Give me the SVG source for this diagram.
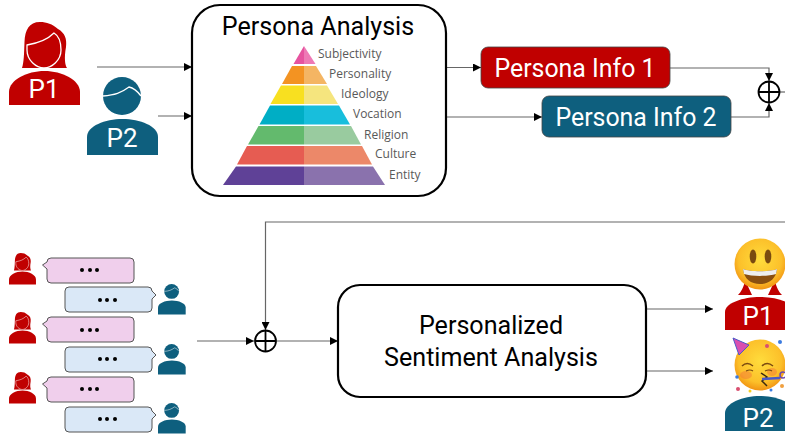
<svg xmlns="http://www.w3.org/2000/svg" width="785" height="437" viewBox="0 0 785 437">
<style>
text{font-family:"Roboto","Liberation Sans",sans-serif}
.big{font-size:25.100px;fill:#000;text-anchor:middle}
.info{font-size:24.900px;fill:#fff;text-anchor:middle}
.tag{font-size:26px;fill:#fff;text-anchor:middle}
.lvl{font-family:"Open Sans","Liberation Sans",sans-serif;font-size:12px;fill:#595959}
.box{fill:#fff;stroke:#000;stroke-width:2.200}
.conn{fill:none;stroke:#666;stroke-width:1.200}
.plus{fill:none;stroke:#000;stroke-width:1.800}
.pink{fill:#f0cfec;stroke:#555;stroke-width:1}
.blue{fill:#dae8f7;stroke:#555;stroke-width:1}
.dot{fill:#000}
</style>
<defs>
<marker id="ah" viewBox="0 0 8 8" refX="8" refY="4" markerWidth="8" markerHeight="8" markerUnits="userSpaceOnUse" orient="auto"><path d="M0 0L8 4L0 8Z" fill="#000"/></marker>
<g id="womanTop">
<path d="M31 0C20 0 16 8 15.500 20C15 32 15 40 13 46L58 46C56 43 55 36 57 25C58 17 56 11 49 7C43 2 38 0 31 0Z" fill="#c00000"/>
<path d="M18 23C30 21 38 18 45 11C50 14 52 20 52 28C52 38 43 46 35 46C27 46 18 38 18 28Z" fill="#c00000" stroke="#fff" stroke-width="1.300"/>
</g>
<g id="womanBody"><path d="M0 83L0 70C0 58 18 49 35.500 49C53 49 71 58 71 70L71 83Z" fill="#c00000"/></g>
<g id="manTop">
<circle cx="19" cy="19" r="19" fill="#0e5f7e"/>
<path d="M0 19C12 18 18 16 26 10C31 11 35 15 38 19" fill="none" stroke="#fff" stroke-width="1.300"/>
</g>
<g id="manBody"><path d="M0 78L0 60C0 49 18 42 35.500 42C53 42 71 49 71 60L71 78Z" fill="#0e5f7e"/></g>
<g id="womanS"><use href="#womanTop"/><use href="#womanBody"/></g>
<g id="manS"><use href="#manTop" x="16"/><use href="#manBody"/></g>
<radialGradient id="face" cx="0.5" cy="0.42" r="0.6"><stop offset="0" stop-color="#ffdc3c"/><stop offset="0.7" stop-color="#fcc02a"/><stop offset="1" stop-color="#f08e10"/></radialGradient>
</defs>

<g id="connectors">
<path class="conn" marker-end="url(#ah)" d="M97 67H192"/>
<path class="conn" marker-end="url(#ah)" d="M158 116H192"/>
<path class="conn" marker-end="url(#ah)" d="M446 67.500H481"/>
<path class="conn" marker-end="url(#ah)" d="M446 117H542"/>
<path class="conn" marker-end="url(#ah)" d="M670 68H769V81"/>
<path class="conn" marker-end="url(#ah)" d="M731 117H769V103"/>
<path class="conn" d="M780 92H785"/>
<path class="conn" marker-end="url(#ah)" d="M785 222H265.500V330"/>
<path class="conn" marker-end="url(#ah)" d="M197 341H254"/>
<path class="conn" marker-end="url(#ah)" d="M277 341H338"/>
<path class="conn" marker-end="url(#ah)" d="M646 309H713"/>
<path class="conn" marker-end="url(#ah)" d="M646 371H713"/>
</g>

<g id="p1"><use href="#womanS" x="9" y="22"/><text class="tag" x="44" y="98">P1</text></g>
<g id="p2"><use href="#manS" x="87" y="77"/><text class="tag" x="122" y="147">P2</text></g>

<g id="persona-analysis">
<rect class="box" x="192" y="5" width="254" height="191" rx="28"/>
<text class="big" x="318" y="35">Persona Analysis</text>
<path fill="#e6539f" d="M304 46L293.500 64H304Z"/><path fill="#ee79b5" d="M304 46L315.500 64H304Z"/>
<path fill="#f39322" d="M304 66L292 66L282 84H304Z"/><path fill="#f4b563" d="M304 66L316 66L327 84H304Z"/>
<path fill="#f8e020" d="M304 85.500L281 85.500L270.500 104H304Z"/><path fill="#f5e57e" d="M304 85.500L327 85.500L338 104H304Z"/>
<path fill="#00aec5" d="M304 105.500L270 105.500L259.500 124.500H304Z"/><path fill="#18bedc" d="M304 105.500L339 105.500L350 124.500H304Z"/>
<path fill="#63ba6d" d="M304 126L258.500 126L248 144.500H304Z"/><path fill="#99cb9f" d="M304 126L351 126L361 144.500H304Z"/>
<path fill="#e65c52" d="M304 146L247 146L237 164.500H304Z"/><path fill="#ec8869" d="M304 146L362 146L372 164.500H304Z"/>
<path fill="#5f4197" d="M304 166.500L236 166.500L223 185H304Z"/><path fill="#8a72ad" d="M304 166.500L373 166.500L385 185H304Z"/>
<text class="lvl" x="318" y="58">Subjectivity</text>
<text class="lvl" x="329" y="78">Personality</text>
<text class="lvl" x="341" y="98">Ideology</text>
<text class="lvl" x="353" y="118">Vocation</text>
<text class="lvl" x="364" y="139">Religion</text>
<text class="lvl" x="375" y="158">Culture</text>
<text class="lvl" x="389" y="179">Entity</text>
</g>

<g id="persona-info-1"><rect x="481" y="47" width="189" height="41" rx="7" fill="#c00000" stroke="#444" stroke-width="0.800"/><text class="info" x="575" y="77">Persona Info 1</text></g>
<g id="persona-info-2"><rect x="542" y="96" width="189" height="41" rx="7" fill="#0e5f7e" stroke="#444" stroke-width="0.800"/><text class="info" x="636" y="126">Persona Info 2</text></g>

<g id="add-top"><circle class="plus" cx="769" cy="92" r="10.500"/><path class="plus" d="M758.500 92H779.500M769 81.500V102.500"/></g>
<g id="add-bottom"><circle class="plus" cx="265.500" cy="341" r="10.500"/><path class="plus" d="M255 341H276M265.500 330.500V351.500"/></g>

<g id="dialogue">
<g id="r1"><use href="#womanS" transform="translate(9 253) scale(.38)"/><path class="pink" d="M51 258H130Q134 258 134 262V279Q134 283 130 283H51Q47 283 47 279V269L42.500 265L47 262Q47 258 51 258Z"/><circle class="dot" cx="82" cy="270" r="2"/><circle class="dot" cx="90" cy="270" r="2"/><circle class="dot" cx="97" cy="270" r="2"/></g>
<g id="r2"><use href="#manS" transform="translate(158 284) scale(.39)"/><path class="blue" d="M69 287H148Q152 287 152 291L156 295L152 299V308Q152 312 148 312H69Q65 312 65 308V291Q65 287 69 287Z"/><circle class="dot" cx="100" cy="300" r="2"/><circle class="dot" cx="107" cy="300" r="2"/><circle class="dot" cx="115" cy="300" r="2"/></g>
<g id="r3"><use href="#womanS" transform="translate(9 312) scale(.38)"/><path class="pink" d="M51 317H130Q134 317 134 321V338Q134 342 130 342H51Q47 342 47 338V328L42.500 324L47 321Q47 317 51 317Z"/><circle class="dot" cx="82" cy="330" r="2"/><circle class="dot" cx="90" cy="330" r="2"/><circle class="dot" cx="97" cy="330" r="2"/></g>
<g id="r4"><use href="#manS" transform="translate(158 344) scale(.39)"/><path class="blue" d="M69 347H148Q152 347 152 351L156 355L152 359V368Q152 372 148 372H69Q65 372 65 368V351Q65 347 69 347Z"/><circle class="dot" cx="100" cy="359" r="2"/><circle class="dot" cx="107" cy="359" r="2"/><circle class="dot" cx="115" cy="359" r="2"/></g>
<g id="r5"><use href="#womanS" transform="translate(9 372) scale(.38)"/><path class="pink" d="M51 377H130Q134 377 134 381V398Q134 402 130 402H51Q47 402 47 398V388L42.500 384L47 381Q47 377 51 377Z"/><circle class="dot" cx="82" cy="389" r="2"/><circle class="dot" cx="90" cy="389" r="2"/><circle class="dot" cx="97" cy="389" r="2"/></g>
<g id="r6"><use href="#manS" transform="translate(158 403) scale(.39)"/><path class="blue" d="M69 407H148Q152 407 152 411L156 415L152 419V428Q152 432 148 432H69Q65 432 65 428V411Q65 407 69 407Z"/><circle class="dot" cx="100" cy="419" r="2"/><circle class="dot" cx="107" cy="419" r="2"/><circle class="dot" cx="115" cy="419" r="2"/></g>
</g>

<g id="sentiment-analysis">
<rect class="box" x="338" y="285" width="308" height="112" rx="22"/>
<text class="big" x="491" y="334">Personalized</text>
<text class="big" x="491" y="366">Sentiment Analysis</text>
</g>

<g id="result-p1">
<path d="M745 280C744 287 741 292 738 295L752 295L745 280ZM775 280C776 287 779 292 782 295L768 295L775 280Z" fill="#c00000"/>
<path d="M725 330V312C725 303 743 297 760 297C777 297 795 303 795 312V330Z" fill="#c00000"/>
<text class="tag" x="758" y="325">P1</text>
<circle cx="760" cy="264" r="25.500" fill="url(#face)"/>
<ellipse cx="753" cy="256.500" rx="3.300" ry="7" fill="#7a4a10"/><ellipse cx="768" cy="256.500" rx="3.300" ry="7" fill="#7a4a10"/>
<path d="M743 269C750 272 770 272 777 269C776 279 769 284 760 284C751 284 744 279 743 269Z" fill="#8a4f10"/>
<path d="M743 269C750 272 770 272 777 269L776 274C768 276.500 752 276.500 744 274Z" fill="#eee"/>
</g>
<g id="result-p2">
<path d="M725 431V413C725 403 743 396 760 396C777 396 795 403 795 413V431Z" fill="#0e5f7e"/>
<text class="tag" x="758" y="427">P2</text>
<circle cx="760" cy="365" r="25.500" fill="url(#face)"/>
<ellipse cx="746" cy="375" rx="6" ry="4" fill="#f2703a" opacity=".45"/><ellipse cx="772" cy="372" rx="5" ry="4" fill="#f2703a" opacity=".45"/>
<path d="M733 338L749 345L739 355Z" fill="#d94fb0" stroke="#4a58c8" stroke-width="1"/>
<path d="M742 366Q747 361 753 366M762 366Q767 361 773 366" fill="none" stroke="#7a4a10" stroke-width="1.500"/>
<path d="M746 371Q750 369 753 371M765 371Q769 369 772 371" fill="none" stroke="#7a4a10" stroke-width="1.200"/>
<path d="M761 373L767 377L762 381L767 386" fill="none" stroke="#3b2a10" stroke-width="1.500"/>
<path d="M762 379L780 378" stroke="#4a58c8" stroke-width="2.500"/>
<circle cx="783" cy="375" r="3" fill="none" stroke="#6a4ab0" stroke-width="1.500"/>
<circle cx="767" cy="346" r="2" fill="#d94f70"/><circle cx="780" cy="342" r="2" fill="#3b7be0"/><circle cx="737" cy="377" r="1.800" fill="#3b7be0"/><circle cx="738" cy="389" r="2" fill="#d94f70"/><circle cx="782" cy="386" r="2" fill="#f0a040"/><circle cx="750" cy="391" r="1.500" fill="#f5d020"/><circle cx="771" cy="390" r="1.500" fill="#3b7be0"/>
</g>
</svg>
